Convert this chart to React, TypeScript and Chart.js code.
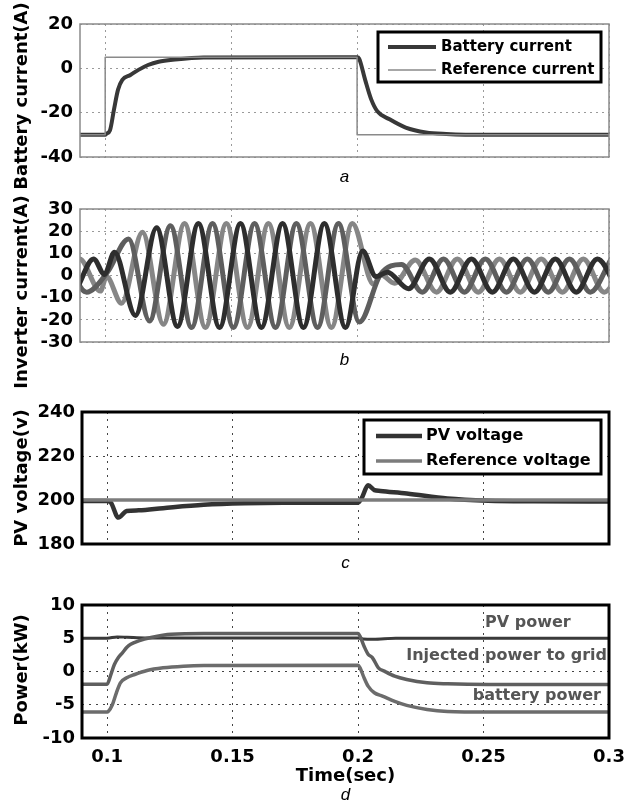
import React, { useEffect, useRef } from "react";
import { Chart, registerables } from "chart.js";

Chart.register(...registerables);

const SANS = "'DejaVu Sans', 'Liberation Sans', sans-serif";
const ITALIC = "'Liberation Sans', Arial, sans-serif";
const PAGE_W = 637;
const PAGE_H = 805;

// ---------- shared axis ----------
const xTicks = [0.1, 0.15, 0.2, 0.25, 0.3];
const timeMin = 0.09;
const timeMax = 0.3;

// ---------- (a) battery current ----------
const batteryTime = [0.09, 0.1, 0.1005, 0.1019, 0.1035, 0.1051, 0.1068, 0.11, 0.1132, 0.117, 0.1212, 0.1277, 0.139, 0.2, 0.2008, 0.2032, 0.2056, 0.208, 0.2129, 0.2193, 0.2273, 0.2354, 0.2514, 0.3];
const batteryCurrent = [-30, -30, -29.5, -28, -18.5, -9.6, -5.2, -3, -0.7, 1.5, 3, 4, 4.9, 5, 4.4, -5.2, -14, -19.3, -23, -26.7, -28.9, -29.6, -30, -30];
const refCurrentTime = [0.09, 0.1, 0.1, 0.2, 0.2, 0.3];
const refCurrent = [-30, -30, 5, 5, -30, -30];
const currentTicks = [-40, -20, 0, 20];

// ---------- (b) inverter currents (extrema of each phase) ----------
const phaseATime = [0.0787, 0.087, 0.0954, 0.0997, 0.1037, 0.112, 0.1204, 0.1287, 0.137, 0.1454, 0.1537, 0.162, 0.1704, 0.1787, 0.187, 0.1954, 0.2022, 0.2075, 0.212, 0.2204, 0.2287, 0.237, 0.2454, 0.2537, 0.262, 0.2704, 0.2787, 0.287, 0.2954, 0.3037];
const phaseACurrent = [7.5, -7.5, 7.5, 0.5, 10.5, -18, 21.5, -23, 23.5, -23.5, 23.5, -23.5, 23.5, -23.5, 23.5, -23.5, 11, -0.5, 1.5, -6, 7.5, -7.5, 7.5, -7.5, 7.5, -7.5, 7.5, -7.5, 7.5, -7.5];
const phaseBTime = [0.0843, 0.0926, 0.1009, 0.1093, 0.1176, 0.1259, 0.1343, 0.1426, 0.1509, 0.1593, 0.1676, 0.1759, 0.1843, 0.1926, 0.2009, 0.2093, 0.2176, 0.2259, 0.2343, 0.2426, 0.2509, 0.2593, 0.2676, 0.2759, 0.2843, 0.2926, 0.3009];
const phaseBCurrent = [7.5, -7.5, 1.5, 16.5, -20.5, 22.5, -23.5, 23.5, -23.5, 23.5, -23.5, 23.5, -23.5, 23.5, -21, 0.5, 5, -7.5, 7.5, -7.5, 7.5, -7.5, 7.5, -7.5, 7.5, -7.5, 7.5];
const phaseCTime = [0.0815, 0.0898, 0.0981, 0.1005, 0.1065, 0.1148, 0.1231, 0.1315, 0.1398, 0.1481, 0.1565, 0.1648, 0.1731, 0.1815, 0.1898, 0.1981, 0.2065, 0.2095, 0.2148, 0.2231, 0.2315, 0.2398, 0.2481, 0.2565, 0.2648, 0.2731, 0.2815, 0.2898, 0.2981, 0.3065];
const phaseCCurrent = [-7.5, 7.5, -7, -0.5, -12.5, 19.5, -22, 23.5, -23.5, 23.5, -23.5, 23.5, -23.5, 23.5, -23.5, 23.5, -4, 0.3, -3.5, 7, -7.5, 7.5, -7.5, 7.5, -7.5, 7.5, -7.5, 7.5, -7.5, 7.5];
const inverterTicks = [-30, -20, -10, 0, 10, 20, 30];

// ---------- (c) PV voltage ----------
const pvTime = [0.09, 0.1, 0.1015, 0.1045, 0.1078, 0.1126, 0.1223, 0.1385, 0.1547, 0.17, 0.2, 0.2015, 0.204, 0.2065, 0.2089, 0.2194, 0.2356, 0.2518, 0.27, 0.3];
const pvVoltage = [199.5, 199.5, 198.8, 192, 195, 195.3, 196.3, 197.8, 198.5, 198.7, 198.8, 201, 206.7, 204.5, 204.1, 203, 200.7, 199.7, 199.4, 199.3];
const refVoltageTime = [0.09, 0.3];
const refVoltage = [200, 200];
const voltageTicks = [180, 200, 220, 240];

// ---------- (d) powers ----------
const pvPowerTime = [0.09, 0.1, 0.104, 0.108, 0.115, 0.2, 0.202, 0.206, 0.215, 0.3];
const pvPower = [5, 5, 5.2, 5.15, 5.05, 5.05, 4.9, 4.85, 5, 5];
const gridPowerTime = [0.09, 0.1, 0.1013, 0.1029, 0.1045, 0.1061, 0.1078, 0.1094, 0.1126, 0.1175, 0.1256, 0.1385, 0.2, 0.2008, 0.2024, 0.204, 0.2057, 0.2081, 0.2105, 0.2146, 0.2194, 0.2275, 0.2356, 0.2518, 0.3];
const gridPower = [-1.9, -1.9, -0.7, 1.05, 2.1, 2.8, 3.6, 4.1, 4.6, 5.1, 5.6, 5.7, 5.7, 5.3, 3.8, 2.6, 2.1, 0.55, 0.05, -0.7, -1.2, -1.7, -1.85, -1.95, -1.95];
const batteryPowerTime = [0.09, 0.1, 0.1005, 0.1021, 0.1037, 0.1053, 0.1078, 0.111, 0.1159, 0.1223, 0.1304, 0.1385, 0.2, 0.2008, 0.2024, 0.204, 0.2065, 0.2097, 0.2146, 0.2194, 0.2275, 0.2356, 0.2518, 0.3];
const batteryPower = [-6.1, -6.1, -6.0, -5, -3.2, -1.7, -0.95, -0.45, 0.15, 0.55, 0.8, 0.9, 0.95, 0.55, -0.95, -2.2, -3.2, -3.7, -4.5, -5.1, -5.7, -6.0, -6.1, -6.1];
const powerTicks = [-10, -5, 0, 5, 10];
const powerNotes = [
  { text: "PV power", t: 0.2506, v: 7.3, align: "left" },
  { text: "Injected power to grid", t: 0.2992, v: 2.3, align: "right" },
  { text: "battery power", t: 0.2968, v: -3.6, align: "right" },
];

function pts(t: number[], v: number[]) {
  return t.map((x, i) => ({ x, y: v[i] }));
}

function line(label: string, t: number[], v: number[], color: string, width: number, smooth = true, order = 0) {
  return {
    label,
    data: pts(t, v),
    borderColor: color,
    backgroundColor: color,
    borderWidth: width,
    pointRadius: 0,
    fill: false,
    order,
    tension: 0,
    borderJoinStyle: "round" as const,
    cubicInterpolationMode: smooth ? ("monotone" as const) : ("default" as const),
  };
}

type Panel = {
  top: number;
  bottom: number;
  yWidth: number;
  yMin: number;
  yMax: number;
  yTicks: number[];
  yTitle: string;
  yTitleCenter: number;
  showX: boolean;
  frameColor: string;
  frameWidth: number;
  gridColor: string;
  dash: number[];
  caption: string;
  captionY: number;
  datasets: any[];
  legend?: { w: number; h: number; rows: number[]; lineFrom: number; lineTo: number; textX: number; font: number };
  notes?: { text: string; t: number; v: number; align: string }[];
};

function makePanel(canvas: HTMLCanvasElement, p: Panel) {
  const extras = {
    id: "extras",
    afterDatasetsDraw(chart: any) {
      const { ctx, chartArea: ca } = chart;
      ctx.save();
      ctx.strokeStyle = p.frameColor;
      ctx.lineWidth = p.frameWidth;
      ctx.strokeRect(ca.left, ca.top, ca.right - ca.left, ca.bottom - ca.top);

      if (p.notes) {
        ctx.font = `bold 16px ${SANS}`;
        ctx.fillStyle = "#555";
        ctx.textBaseline = "middle";
        p.notes.forEach((n) => {
          ctx.textAlign = n.align;
          ctx.fillText(n.text, chart.scales.x.getPixelForValue(n.t), chart.scales.y.getPixelForValue(n.v));
        });
      }

      if (p.legend) {
        const L = p.legend;
        const x0 = ca.right - 8 - L.w;
        const y0 = ca.top + 8;
        ctx.fillStyle = "#fff";
        ctx.fillRect(x0, y0, L.w, L.h);
        ctx.strokeStyle = "#000";
        ctx.lineWidth = 3;
        ctx.strokeRect(x0, y0, L.w, L.h);
        L.rows.forEach((dy, i) => {
          const ds = chart.data.datasets[i];
          const y = y0 + dy;
          ctx.strokeStyle = ds.borderColor;
          ctx.lineWidth = ds.borderWidth;
          ctx.lineCap = "butt";
          ctx.beginPath();
          ctx.moveTo(x0 + L.lineFrom, y);
          ctx.lineTo(x0 + L.lineTo, y);
          ctx.stroke();
          ctx.fillStyle = "#000";
          ctx.font = `bold ${L.font}px ${SANS}`;
          ctx.textAlign = "left";
          ctx.textBaseline = "middle";
          ctx.fillText(ds.label, x0 + L.textX, y);
        });
      }

      // panel caption
      ctx.fillStyle = "#000";
      ctx.font = `italic 17px ${ITALIC}`;
      ctx.textAlign = "center";
      ctx.textBaseline = "middle";
      ctx.fillText(p.caption, (ca.left + ca.right) / 2, p.captionY);

      // y-axis title
      ctx.save();
      ctx.translate(22, p.yTitleCenter);
      ctx.rotate(-Math.PI / 2);
      ctx.font = `bold 18px ${SANS}`;
      ctx.textAlign = "center";
      ctx.textBaseline = "middle";
      ctx.fillText(p.yTitle, 0, 0);
      ctx.restore();

      ctx.restore();
    },
  };

  return new Chart(canvas, {
    type: "line",
    data: { datasets: p.datasets },
    options: {
      responsive: false,
      animation: false,
      devicePixelRatio: 1,
      events: [],
      layout: { padding: { top: p.top, right: 28, bottom: 0, left: 0 } },
      plugins: { legend: { display: false }, tooltip: { enabled: false } },
      scales: {
        x: {
          type: "linear",
          min: timeMin,
          max: timeMax,
          afterBuildTicks: (s: any) => {
            s.ticks = xTicks.map((v) => ({ value: v }));
          },
          afterFit: (s: any) => {
            s.height = PAGE_H - p.bottom;
          },
          grid: { color: p.gridColor, lineWidth: 1, drawTicks: false },
          border: { display: false, dash: p.dash },
          ticks: {
            display: p.showX,
            padding: 9,
            color: "#000",
            font: { family: SANS, size: 18, weight: "bold" },
            maxRotation: 0,
            autoSkip: false,
            callback: (v: any) => String(v),
          },
          title: p.showX
            ? {
                display: true,
                text: "Time(sec)",
                color: "#000",
                font: { family: SANS, size: 18, weight: "bold" },
                padding: { top: 0, bottom: 18 },
              }
            : { display: false },
        },
        y: {
          type: "linear",
          min: p.yMin,
          max: p.yMax,
          afterBuildTicks: (s: any) => {
            s.ticks = p.yTicks.map((v) => ({ value: v }));
          },
          afterFit: (s: any) => {
            s.width = p.yWidth;
          },
          grid: { color: p.gridColor, lineWidth: 1, drawTicks: false },
          border: { display: false, dash: p.dash },
          ticks: {
            padding: 7,
            color: "#000",
            autoSkip: false,
            font: { family: SANS, size: 18, weight: "bold" },
            callback: (v: any) => String(v),
          },
          title: { display: false },
        },
      },
    } as any,
    plugins: [extras],
  });
}

const panelA: Panel = {
  top: 24,
  bottom: 157,
  yWidth: 80,
  yMin: -40,
  yMax: 20,
  yTicks: currentTicks,
  yTitle: "Battery current(A)",
  yTitleCenter: 96,
  showX: false,
  frameColor: "#8a8a8a",
  frameWidth: 1.5,
  gridColor: "#9a9a9a",
  dash: [2, 4],
  caption: "a",
  captionY: 177,
  datasets: [
    line("Battery current", batteryTime, batteryCurrent, "#383838", 4, true, 1),
    line("Reference current", refCurrentTime, refCurrent, "#8a8a8a", 1.5, false, 0),
  ],
  legend: { w: 223, h: 50, rows: [15, 38], lineFrom: 10, lineTo: 58, textX: 63, font: 15 },
};

const panelB: Panel = {
  top: 209,
  bottom: 342,
  yWidth: 80,
  yMin: -30,
  yMax: 30,
  yTicks: inverterTicks,
  yTitle: "Inverter current(A)",
  yTitleCenter: 292,
  showX: false,
  frameColor: "#8a8a8a",
  frameWidth: 1.5,
  gridColor: "#9a9a9a",
  dash: [2, 4],
  caption: "b",
  captionY: 360,
  datasets: [
    line("Phase a", phaseATime, phaseACurrent, "#2e2e2e", 5),
    line("Phase b", phaseBTime, phaseBCurrent, "#5e5e5e", 5),
    line("Phase c", phaseCTime, phaseCCurrent, "#868686", 5),
  ],
};

const panelC: Panel = {
  top: 412,
  bottom: 544,
  yWidth: 82,
  yMin: 180,
  yMax: 240,
  yTicks: voltageTicks,
  yTitle: "PV voltage(v)",
  yTitleCenter: 478,
  showX: false,
  frameColor: "#000",
  frameWidth: 3,
  gridColor: "#444",
  dash: [2, 5],
  caption: "c",
  captionY: 563,
  datasets: [
    line("PV voltage", pvTime, pvVoltage, "#333333", 4.5, true, 1),
    line("Reference voltage", refVoltageTime, refVoltage, "#7c7c7c", 3.5, false, 0),
  ],
  legend: { w: 237, h: 54, rows: [16, 41], lineFrom: 12, lineTo: 58, textX: 62, font: 16 },
};

const panelD: Panel = {
  top: 605,
  bottom: 738,
  yWidth: 82,
  yMin: -10,
  yMax: 10,
  yTicks: powerTicks,
  yTitle: "Power(kW)",
  yTitleCenter: 670,
  showX: true,
  frameColor: "#000",
  frameWidth: 3,
  gridColor: "#444",
  dash: [2, 5],
  caption: "d",
  captionY: 795,
  datasets: [
    line("PV power", pvPowerTime, pvPower, "#3a3a3a", 3, true, 1),
    line("Injected power to grid", gridPowerTime, gridPower, "#5f5f5f", 3.5, true, 0),
    line("battery power", batteryPowerTime, batteryPower, "#6c6c6c", 3.5, true, 0),
  ],
  notes: powerNotes,
};

export default function App() {
  const aRef = useRef<HTMLCanvasElement>(null);
  const bRef = useRef<HTMLCanvasElement>(null);
  const cRef = useRef<HTMLCanvasElement>(null);
  const dRef = useRef<HTMLCanvasElement>(null);

  useEffect(() => {
    const charts = [
      makePanel(aRef.current!, panelA),
      makePanel(bRef.current!, panelB),
      makePanel(cRef.current!, panelC),
      makePanel(dRef.current!, panelD),
    ];
    return () => charts.forEach((c) => c.destroy());
  }, []);

  const cs: React.CSSProperties = { position: "absolute", left: 0, top: 0, display: "block" };

  return (
    <div style={{ position: "absolute", left: 0, top: 0, width: PAGE_W, height: PAGE_H, background: "#fff", overflow: "hidden" }}>
      <canvas ref={aRef} width={PAGE_W} height={PAGE_H} style={cs} />
      <canvas ref={bRef} width={PAGE_W} height={PAGE_H} style={cs} />
      <canvas ref={cRef} width={PAGE_W} height={PAGE_H} style={cs} />
      <canvas ref={dRef} width={PAGE_W} height={PAGE_H} style={cs} />
    </div>
  );
}
